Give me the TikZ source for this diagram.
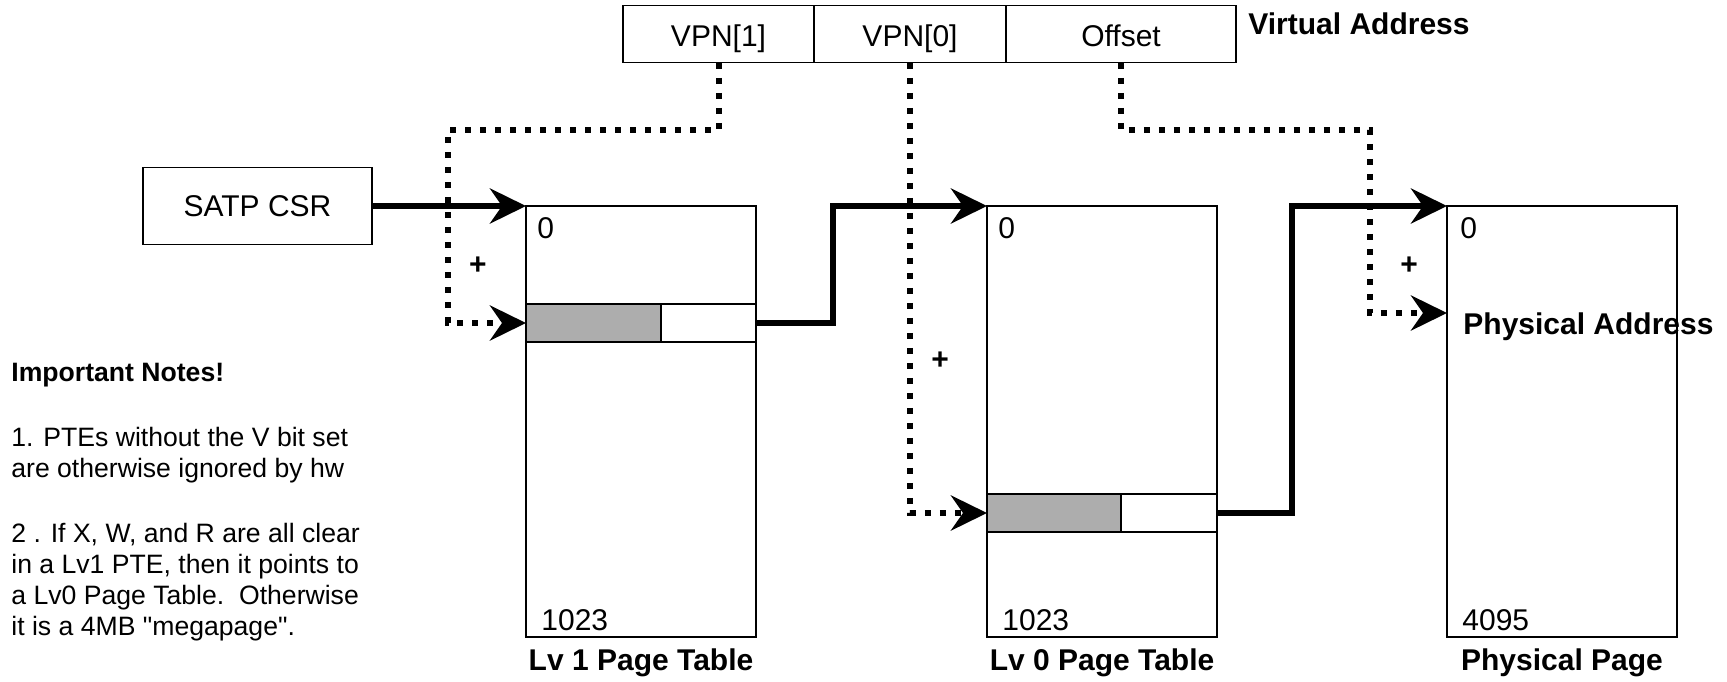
\documentclass[tikz,border=0pt]{standalone}
\usepackage{fontspec}
\setmainfont{Liberation Sans}[Ligatures=TeXOff]
\usepackage{xcolor}
\usetikzlibrary{arrows.meta, positioning, calc}
\definecolor{ptegray}{RGB}{173,173,173}
\tikzset{every node/.style={font=\fontsize{15}{18}\selectfont}}
\tikzset{box/.style={draw, line width=0.7pt, inner sep=0pt, outer sep=0pt},
	vacell/.style={box, minimum height=28.75pt, text height=12.7pt, text depth=0pt},
	pagetab/.style={box, minimum width=115pt, minimum height=215.5pt},
	pte/.style={box, minimum height=19pt},
	ptr/.style={line width=3pt, -{Stealth[length=18pt, width=17.5pt, inset=6pt]}},
	idx/.style={line width=3pt, dash pattern=on 3pt off 4.5pt, -{Stealth[length=18pt, width=17.5pt, inset=6pt]}},
	lbl/.style={font=\fontsize{15}{18}\selectfont\bfseries, inner sep=0pt},
	num/.style={inner sep=0pt},
	note/.style={font=\fontsize{13.3}{15.5}\selectfont, align=left, inner sep=0pt, anchor=base west}}

\begin{document}
\begin{tikzpicture}[x=0.5pt, y=-0.5pt]
	\useasboundingbox (0,0) rectangle (1727,681);
	
	% adresse virtuelle
	\node[vacell, minimum width=95.5pt] (vpn1) at (718.5,34) {VPN[1]};
	\node[vacell, minimum width=96pt, right=0pt of vpn1] (vpn0) {VPN[0]};
	\node[vacell, minimum width=115pt, right=0pt of vpn0] (off) {Offset};
	\node[lbl, anchor=west] (va) at (1248,24) {Virtual Address};
	
	\node[box, minimum width=114.5pt, minimum height=38.5pt] (satp) at (257.5,206) {SATP CSR};
	
	% tables
	\node[pagetab] (lv1) at (641,421.5) {};
	\node[pagetab] (lv0) at (1102,421.5) {};
	\node[pagetab] (phys) at (1562,421.5) {};
	
	\node[pte, fill=ptegray, minimum width=67.5pt, anchor=north west] (pte1g) at ([yshift=-49pt]lv1.north west) {};
	\node[pte, minimum width=47.5pt, right=0pt of pte1g] (pte1w) {};
	\node[pte, fill=ptegray, minimum width=67pt, anchor=north west] (pte0g) at ([yshift=-144pt]lv0.north west) {};
	\node[pte, minimum width=48pt, right=0pt of pte0g] (pte0w) {};
	
	\node[num, anchor=west] (top1) at ([xshift=5.5pt, yshift=-11pt]lv1.north west) {0};
	\node[num, anchor=west] (top0) at ([xshift=5.5pt, yshift=-11pt]lv0.north west) {0};
	\node[num, anchor=west] (topp) at ([xshift=6.5pt, yshift=-11pt]phys.north west) {0};
	\node[num, anchor=west] (bot1) at ([xshift=7.5pt, yshift=8.5pt]lv1.south west) {1023};
	\node[num, anchor=west] (bot0) at ([xshift=7.5pt, yshift=8.5pt]lv0.south west) {1023};
	\node[num, anchor=west] (botp) at ([xshift=7.5pt, yshift=8.5pt]phys.south west) {4095};
	
	\node[lbl, below=5.5pt of lv1] (name1) {Lv 1 Page Table};
	\node[lbl, below=5.5pt of lv0] (name0) {Lv 0 Page Table};
	\node[lbl, below=5.5pt of phys] (namep) {Physical Page};
	
	% fleches
	\draw[ptr] (satp.east) -- (lv1.north west);
	\draw[ptr] (pte1w.east) -- ++(77,0) |- (lv0.north west);
	\draw[ptr] (pte0w.east) -- ++(75,0) |- (phys.north west);
	
	\coordinate (pa) at ([yshift=-53.5pt]phys.north west);
	\draw[idx] (vpn1.south) |- (448,130) |- (pte1g.west);
	\draw[idx] (vpn0.south) |- (pte0g.west);
	\draw[idx] (off.south) |- (1370,130) |- (pa);
	
	\node[lbl] (plus1) at (478,266) {+};
	\node[lbl] (plus0) at (940,361) {+};
	\node[lbl] (plusp) at (1409,266) {+};
	\node[lbl, anchor=west] (paddr) at (1463,326.5) {Physical Address};
	
	% notes
	\node[note, font=\fontsize{13.3}{15.5}\selectfont\bfseries] (notes) at (11,381) {Important Notes!};
	\node[note] (note1) at (11,477) {1. PTEs without the V bit set\\are otherwise ignored by hw};
	\node[note] (note2) at (11,635) {2 . If X, W, and R are all clear\\in a Lv1 PTE, then it points to\\a Lv0 Page Table.\ \ Otherwise\\it is a 4MB "megapage".};
\end{tikzpicture}
\end{document}
